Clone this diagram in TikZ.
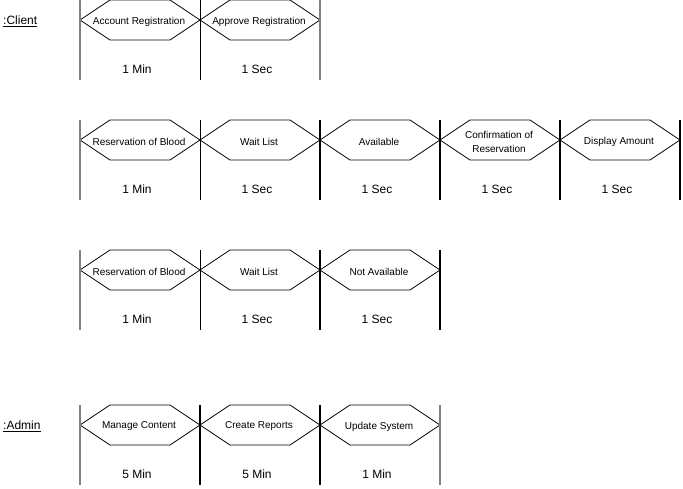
\documentclass[tikz,border=0pt]{standalone}
\usepackage{fontspec}
\setmainfont{Liberation Sans}
\usepackage{tikz}
\usetikzlibrary{positioning}
% state segment: name, left x, top y, label, duration
\newcommand{\tstate}[5]{%
  \draw[hexa] (#2,#3+20) -- (#2+30,#3) -- (#2+90,#3) -- (#2+120,#3+20)
    -- (#2+90,#3+40) -- (#2+30,#3+40) -- cycle;
  \node[evt] (#1) at (#2+59,#3+21.5) {#4};
  \node[dur] (#1-t) at (#2+57,#3+69.5) {#5};
}

\begin{document}
\begin{tikzpicture}[x=1pt, y=-1pt,
      hexa/.style={draw=black, line width=0.8pt},
      lifeend/.style={draw=gray, line width=1.6pt},
      tickthin/.style={draw=black, line width=0.9pt},
      tickmid/.style={draw=black, line width=1.3pt},
      tickbold/.style={draw=black, line width=1.8pt},
      evt/.style={font=\fontsize{10}{14}\selectfont, align=center, inner sep=0pt},
      dur/.style={font=\fontsize{12}{14}\selectfont, inner sep=0pt},
      actor/.style={font=\fontsize{12}{14}\selectfont, anchor=west, inner sep=0pt}]
      \useasboundingbox (0,0) rectangle (683,488);

      \node[actor] (client) at (3,21) {\underline{:Client}};
      \node[actor] (admin) at (3,426) {\underline{:Admin}};

      % row 1
      \tstate{acreg}{80}{0}{Account Registration}{1 Min}
      \tstate{apreg}{200}{0}{Approve Registration}{1 Sec}
      \foreach \x in {80,320} \draw[lifeend] (\x,0) -- (\x,80);
      \draw[tickthin] (200,0) -- (200,80);

      % row 2
      \tstate{resva}{80}{120}{Reservation of Blood}{1 Min}
      \tstate{waita}{200}{120}{Wait List}{1 Sec}
      \tstate{avail}{320}{120}{Available}{1 Sec}
      \tstate{confirm}{440}{120}{Confirmation of\\Reservation}{1 Sec}
      \tstate{disp}{560}{120}{Display Amount}{1 Sec}
      \draw[lifeend] (80,120) -- (80,200);
      \draw[tickthin] (200,120) -- (200,200);
      \foreach \x in {320,440,560,680} \draw[tickmid] (\x,120) -- (\x,200);

      % row 3
      \tstate{resvb}{80}{250}{Reservation of Blood}{1 Min}
      \tstate{waitb}{200}{250}{Wait List}{1 Sec}
      \tstate{navail}{320}{250}{Not Available}{1 Sec}
      \draw[lifeend] (80,250) -- (80,330);
      \draw[tickthin] (200,250) -- (200,330);
      \foreach \x in {320,440} \draw[tickmid] (\x,250) -- (\x,330);

      % row 4
      \tstate{manage}{80}{405}{Manage Content}{5 Min}
      \tstate{report}{200}{405}{Create Reports}{5 Min}
      \tstate{update}{320}{405}{Update System}{1 Min}
      \foreach \x in {80,440} \draw[lifeend] (\x,405) -- (\x,485);
      \foreach \x in {200,320} \draw[tickbold] (\x,405) -- (\x,485);
      % \draw[tickthin] (80,445) -- (440,445);
    \end{tikzpicture}
\end{document}
